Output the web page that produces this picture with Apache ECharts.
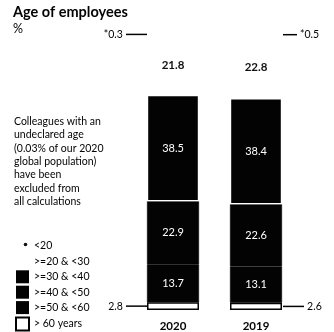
<!DOCTYPE html>
<html>
<head>
<meta charset="utf-8">
<script src="https://cdn.jsdelivr.net/npm/echarts@6/dist/echarts.min.js"></script>
<style>
  html, body { margin: 0; padding: 0; background: #fff; }
  #chart { width: 334px; height: 332px; }
</style>
</head>
<body>
<div id="chart"></div>
<script>
// Survey years shown as stacked columns
const years = ['2020', '2019'];

// Share of employees per age band, % (bottom of the stack first)
const over60 = [2.8, 2.6];
const age50to60 = [13.7, 13.1];
const age40to50 = [22.9, 22.6];
const age30to40 = [38.5, 38.4];
const age20to30 = [21.8, 22.8];
const under20 = [0.3, 0.5];

const bandNames = ['> 60 years', '>=50 & <60', '>=40 & <50', '>=30 & <40', '>=20 & <30', '<20'];

const FONT = 'Lato, "Open Sans", sans-serif';
const INK = '#030303';

// tiny dot used as the legend key for the smallest band
const dotIcon = 'image://data:image/svg+xml;utf8,' + encodeURIComponent(
  '<svg xmlns="http://www.w3.org/2000/svg" width="13" height="13">' +
  '<circle cx="9.5" cy="5" r="1.8" fill="#111"/></svg>');

// outside labels joined to the column by a short rule
const ruleRich = {
  rule: { width: 21, height: 1.5, backgroundColor: INK, verticalAlign: 'middle' },
  rule2: { width: 14, height: 1.5, backgroundColor: INK, verticalAlign: 'middle' },
  rule3: { width: 21, height: 1.5, backgroundColor: INK, verticalAlign: 'middle' },
  v: { fontSize: 10.5, color: INK, fontFamily: FONT, verticalAlign: 'middle' }
};

function outsideData(values, leftFmt, rightFmt) {
  return values.map((v, i) => ({
    value: v,
    label: i === 0
      ? { position: 'left', distance: 0, formatter: leftFmt(v) }
      : { position: 'right', distance: 1, formatter: rightFmt(v) }
  }));
}

function blockSeries(name, values, style, labelColor) {
  return {
    name: name,
    type: 'bar',
    stack: 'age',
    barWidth: 52,
    data: values,
    itemStyle: style,
    label: {
      show: true,
      position: 'inside',
      color: labelColor,
      fontSize: 11,
      fontFamily: FONT,
      formatter: p => p.value.toFixed(1)
    }
  };
}

const series = [
  {
    name: bandNames[0],
    type: 'bar',
    stack: 'age',
    barWidth: 52,
    itemStyle: { color: '#fff', borderColor: INK, borderWidth: 1.5 },
    label: { show: true, rich: ruleRich },
    data: outsideData(over60,
      v => '{v|' + v.toFixed(1) + '} {rule|}',
      v => '{rule3|} {v|' + v.toFixed(1) + '}')
  },
  blockSeries(bandNames[1], age50to60, { color: INK, borderColor: INK, borderWidth: 0.6 }, '#fff'),
  blockSeries(bandNames[2], age40to50, { color: INK, borderColor: INK, borderWidth: 0.6 }, '#fff'),
  blockSeries(bandNames[3], age30to40, { color: INK, borderColor: '#fff', borderWidth: 1.2 }, '#fff'),
  (() => {
    const s = blockSeries(bandNames[4], age20to30, { color: '#fff' }, '#111');
    s.label.fontWeight = 'bold';
    s.label.fontSize = 11.5;
    return s;
  })(),
  {
    name: bandNames[5],
    type: 'bar',
    stack: 'age',
    barWidth: 52,
    itemStyle: { color: '#fff' },
    label: { show: true, rich: ruleRich },
    data: outsideData(under20,
      v => '{v|*' + v.toFixed(1) + '} {rule|}',
      v => '{rule2|} {v|*' + v.toFixed(1) + '}')
  }
];

const flatKey = { borderWidth: 0 };

const chart = echarts.init(document.getElementById('chart'), null, { renderer: 'canvas' });
chart.setOption({
  animation: false,
  backgroundColor: '#fff',
  textStyle: { fontFamily: FONT, color: INK },
  title: [
    {
      text: 'Age of employees',
      left: 13, top: 5, padding: 0,
      textStyle: { fontSize: 14.5, fontWeight: 'bold', color: INK, fontFamily: FONT }
    },
    {
      text: '%',
      left: 13, top: 22, padding: 0,
      textStyle: { fontSize: 12.5, fontWeight: 'normal', color: INK, fontFamily: FONT }
    },
    {
      text: 'Colleagues with an\nundeclared age\n(0.03% of our 2020\nglobal population)\nhave been\nexcluded from\nall calculations',
      left: 14, top: 115, padding: 0,
      textStyle: { fontSize: 10.5, fontWeight: 'normal', lineHeight: 13.3, color: INK, fontFamily: FONT }
    }
  ],
  legend: {
    orient: 'vertical',
    left: 15,
    top: 239.5,
    height: 120,
    itemWidth: 13,
    itemHeight: 13,
    itemGap: 2.4,
    padding: 0,
    selectedMode: false,
    textStyle: { fontSize: 10.5, lineHeight: 13, color: INK, fontFamily: FONT },
    data: [
      { name: bandNames[5], icon: dotIcon },
      { name: bandNames[4], icon: 'rect' },
      { name: bandNames[3], icon: 'rect', itemStyle: flatKey },
      { name: bandNames[2], icon: 'rect', itemStyle: flatKey },
      { name: bandNames[1], icon: 'rect', itemStyle: flatKey },
      { name: bandNames[0], icon: 'rect' }
    ]
  },
  grid: { left: 131.5, right: 36.5, top: 34, bottom: 21 },
  xAxis: {
    type: 'category',
    data: years,
    axisLine: { show: false },
    axisTick: { show: false },
    axisLabel: { fontSize: 11.5, fontWeight: 'bold', color: INK, margin: 10, fontFamily: FONT }
  },
  yAxis: {
    type: 'value',
    min: 0,
    max: 100,
    show: false
  },
  series: series
});
</script>
</body>
</html>
